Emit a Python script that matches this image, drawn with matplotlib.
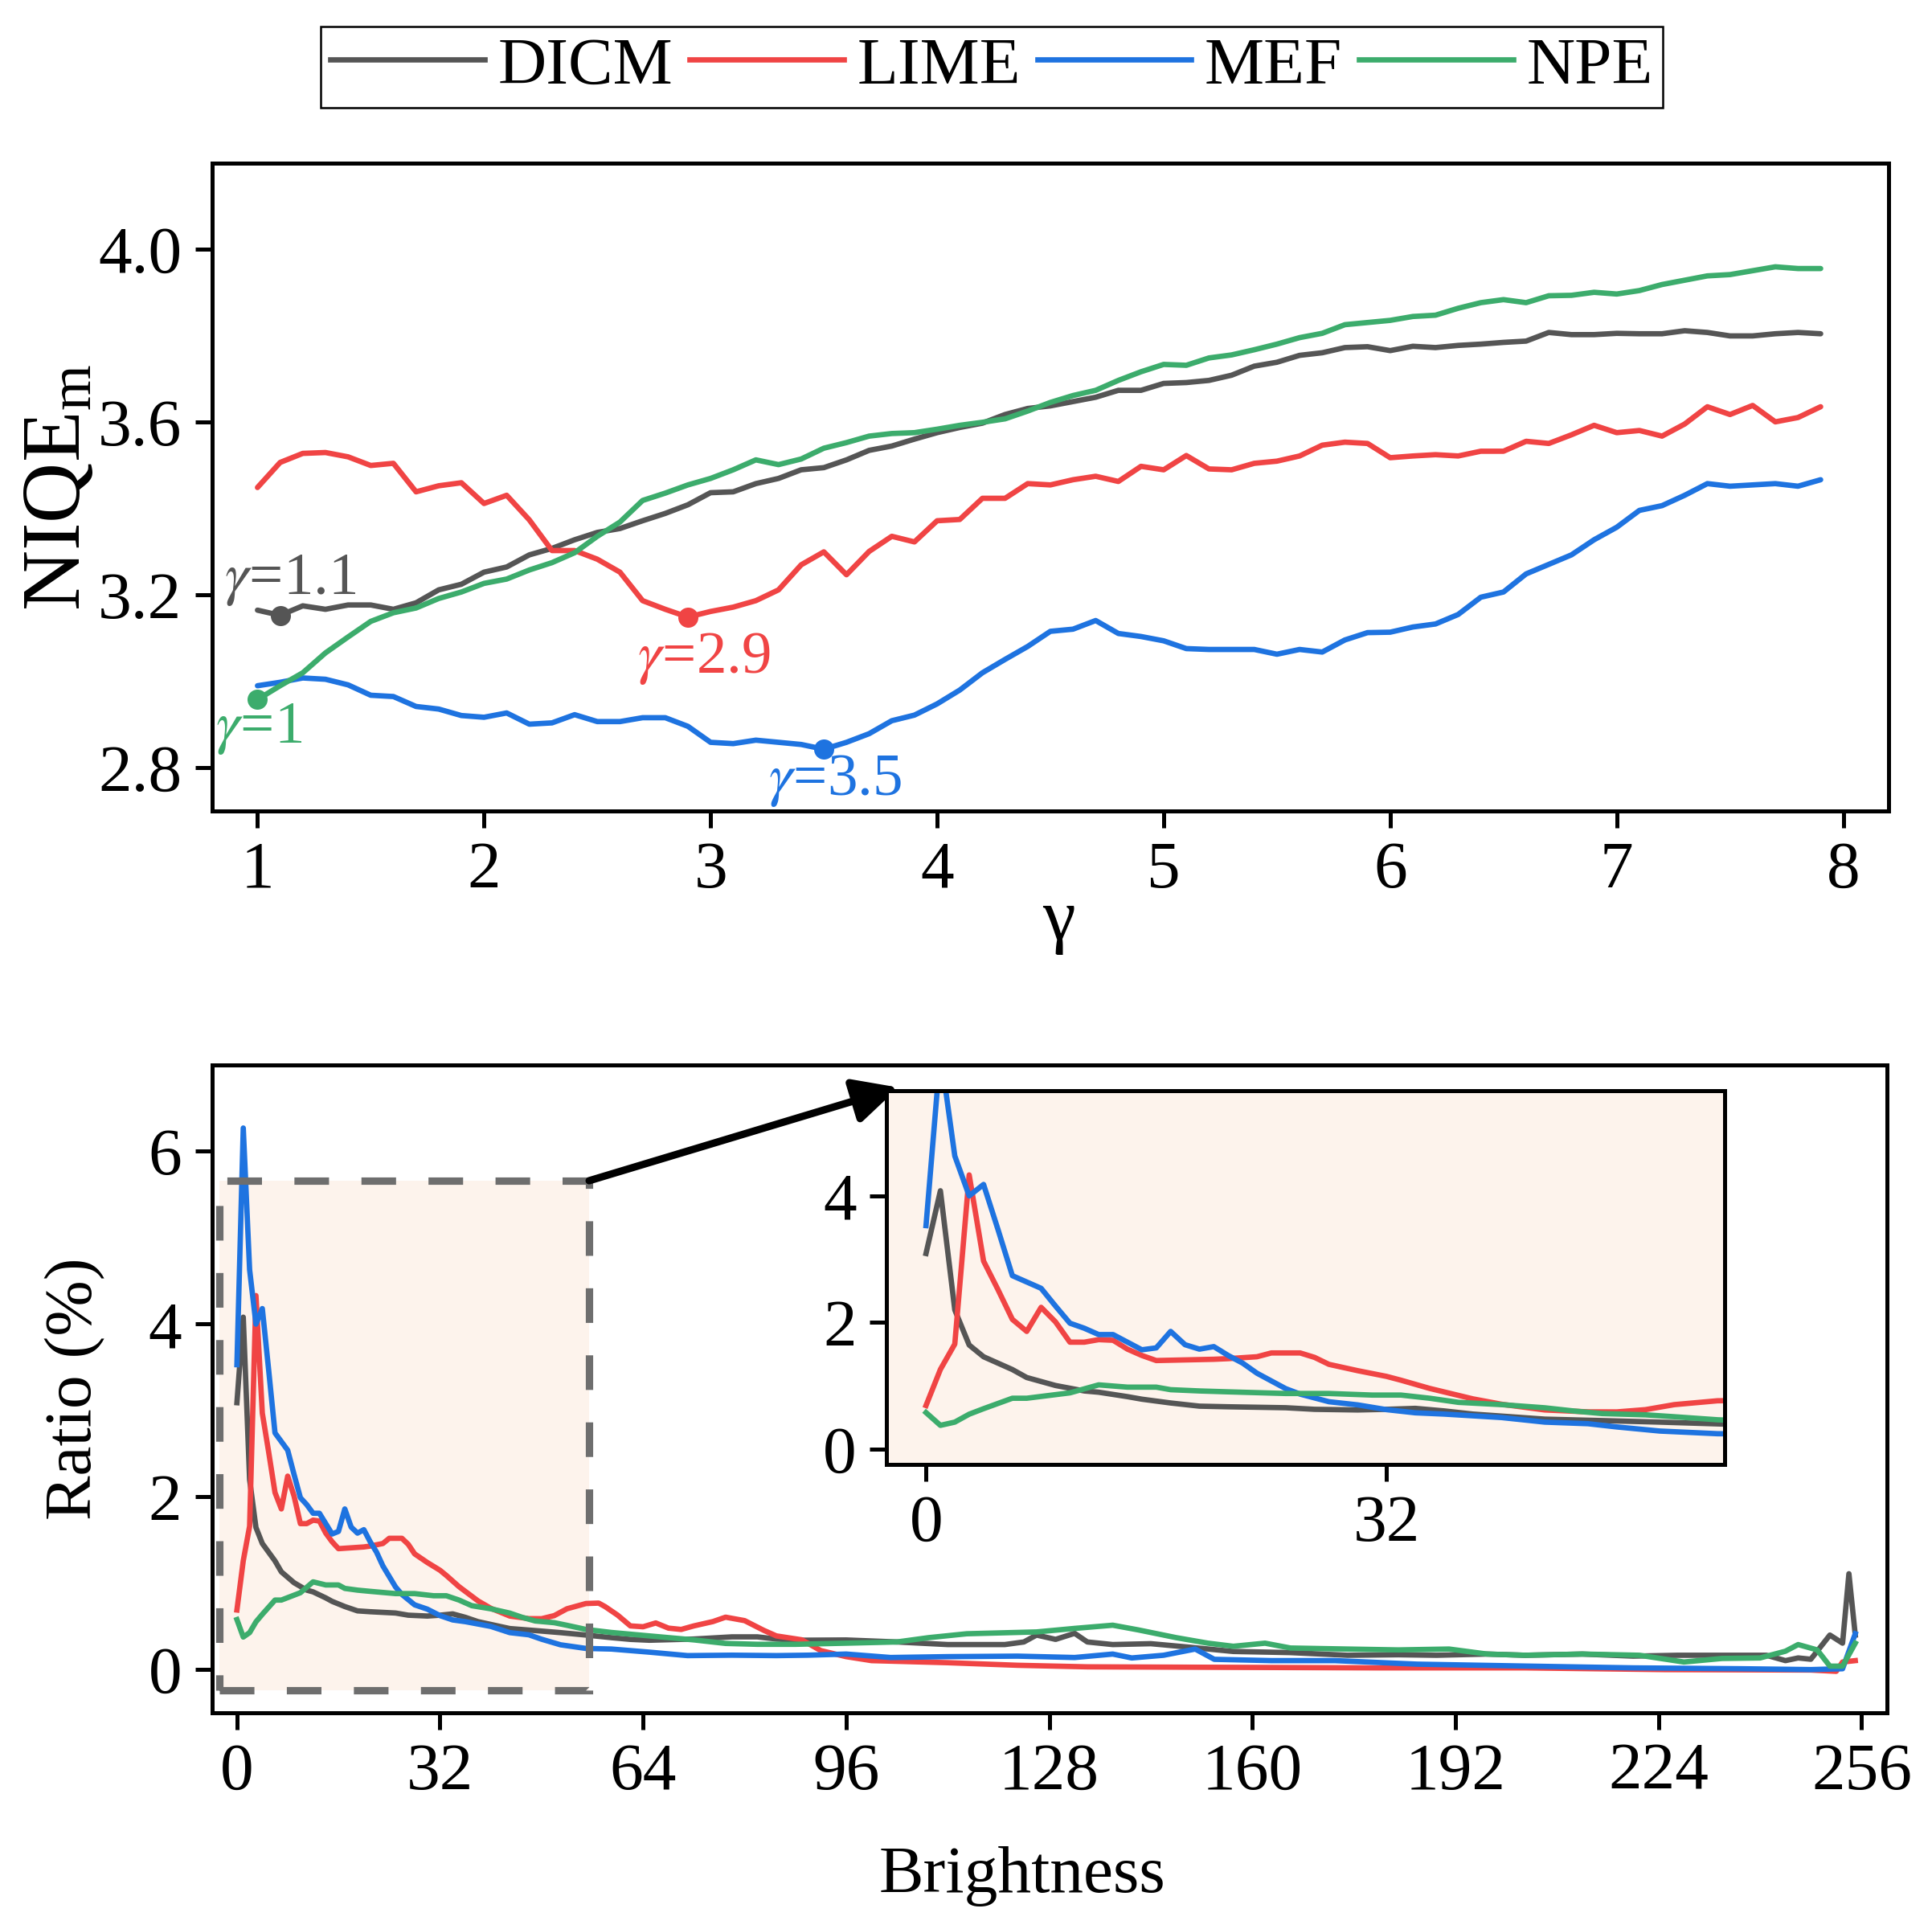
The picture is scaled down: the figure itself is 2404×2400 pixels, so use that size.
import numpy as np
import matplotlib
matplotlib.use("Agg")
import matplotlib.pyplot as plt
from matplotlib.patches import Rectangle
from matplotlib.lines import Line2D

plt.rcParams['font.family'] = ['Liberation Serif', 'DejaVu Serif']
plt.rcParams['mathtext.fontset'] = 'custom'
plt.rcParams['mathtext.rm'] = 'Liberation Serif'
plt.rcParams['mathtext.it'] = 'Liberation Serif:italic'

# ---------------- data: top panel ----------------
methods = ["DICM", "LIME", "MEF", "NPE"]
colors = {"DICM": "#555555", "LIME": "#F04444", "MEF": "#1E73E0", "NPE": "#3CAC6C"}

gamma = np.round(np.arange(1.0, 7.95, 0.1), 1)

niqe_dicm = [3.165, 3.153, 3.175, 3.167, 3.177, 3.177, 3.167, 3.182, 3.212, 3.225,
             3.253, 3.265, 3.293, 3.308, 3.328, 3.345, 3.354, 3.372, 3.389, 3.409,
             3.437, 3.439, 3.458, 3.470, 3.490, 3.495, 3.513, 3.535, 3.545, 3.561,
             3.576, 3.588, 3.598, 3.618, 3.632, 3.638, 3.648, 3.658, 3.674, 3.674,
             3.690, 3.692, 3.697, 3.709, 3.730, 3.739, 3.755, 3.761, 3.773, 3.775,
             3.766, 3.776, 3.773, 3.778, 3.781, 3.785, 3.788, 3.808, 3.803, 3.803,
             3.806, 3.805, 3.805, 3.812, 3.808, 3.800, 3.800, 3.805, 3.808, 3.805]
niqe_lime = [3.449, 3.507, 3.528, 3.530, 3.520, 3.500, 3.505, 3.439, 3.453, 3.460,
             3.412, 3.431, 3.374, 3.303, 3.303, 3.283, 3.253, 3.187, 3.167, 3.149,
             3.162, 3.172, 3.187, 3.212, 3.270, 3.300, 3.247, 3.301, 3.336, 3.323,
             3.372, 3.375, 3.424, 3.424, 3.458, 3.455, 3.467, 3.475, 3.463, 3.498,
             3.490, 3.523, 3.492, 3.490, 3.505, 3.510, 3.522, 3.547, 3.554, 3.551,
             3.518, 3.522, 3.525, 3.522, 3.533, 3.533, 3.556, 3.551, 3.571, 3.593,
             3.576, 3.581, 3.568, 3.596, 3.636, 3.618, 3.639, 3.601, 3.611, 3.636]
niqe_mef = [2.990, 2.998, 3.008, 3.005, 2.992, 2.968, 2.965, 2.942, 2.936, 2.921,
            2.917, 2.927, 2.901, 2.904, 2.923, 2.907, 2.907, 2.916, 2.916, 2.896,
            2.859, 2.856, 2.864, 2.859, 2.854, 2.843, 2.859, 2.879, 2.909, 2.922,
            2.948, 2.980, 3.020, 3.051, 3.081, 3.116, 3.121, 3.141, 3.111, 3.104,
            3.094, 3.076, 3.074, 3.074, 3.074, 3.063, 3.074, 3.068, 3.096, 3.113,
            3.114, 3.126, 3.133, 3.155, 3.195, 3.207, 3.249, 3.271, 3.293, 3.328,
            3.357, 3.396, 3.407, 3.431, 3.458, 3.452, 3.455, 3.458, 3.452, 3.467]
niqe_npe = [2.958, 2.990, 3.020, 3.066, 3.103, 3.139, 3.159, 3.170, 3.192, 3.207,
            3.227, 3.237, 3.258, 3.275, 3.298, 3.336, 3.369, 3.419, 3.436, 3.455,
            3.470, 3.490, 3.513, 3.502, 3.515, 3.540, 3.553, 3.568, 3.574, 3.576,
            3.584, 3.593, 3.600, 3.608, 3.626, 3.646, 3.662, 3.674, 3.697, 3.717,
            3.734, 3.732, 3.749, 3.756, 3.768, 3.781, 3.796, 3.806, 3.826, 3.831,
            3.836, 3.845, 3.848, 3.864, 3.877, 3.884, 3.877, 3.893, 3.894, 3.901,
            3.897, 3.905, 3.919, 3.929, 3.939, 3.942, 3.951, 3.960, 3.956, 3.956]

best_gamma = {"DICM": 1.1, "LIME": 2.9, "MEF": 3.5, "NPE": 1.0}
best_label = {"DICM": "$\\gamma$=1.1", "LIME": "$\\gamma$=2.9", "MEF": "$\\gamma$=3.5", "NPE": "$\\gamma$=1"}

# ---------------- data: bottom panel ----------------
br_dicm_x = [0, 1, 2, 3, 4, 6, 7, 9, 11, 12, 14, 15, 17, 19, 21, 25, 27, 30, 32, 34, 36, 38,
             43, 47, 51, 55, 59, 62, 65, 72, 78, 82, 85, 88, 96, 104, 112, 121, 124, 126,
             129, 132, 134, 138, 144, 150, 157, 166, 175, 183, 189, 197, 203, 212, 220,
             227, 236, 241, 244, 246, 248, 251, 253, 254, 255]
br_dicm_y = [3.09, 4.08, 2.20, 1.645, 1.46, 1.258, 1.132, 1.006, 0.92, 0.90, 0.83, 0.79,
             0.73, 0.68, 0.67, 0.655, 0.63, 0.62, 0.63, 0.645, 0.605, 0.555, 0.475, 0.452,
             0.428, 0.40, 0.37, 0.35, 0.34, 0.354, 0.379, 0.379, 0.354, 0.34, 0.343, 0.32,
             0.29, 0.29, 0.32, 0.40, 0.35, 0.42, 0.32, 0.29, 0.30, 0.26, 0.21, 0.197, 0.166,
             0.172, 0.166, 0.18, 0.166, 0.18, 0.156, 0.166, 0.166, 0.166, 0.104, 0.135,
             0.12, 0.40, 0.306, 1.11, 0.40]

br_lime_x = [0, 1, 2, 3, 4, 5, 6, 7, 8, 9, 10, 11, 12, 13, 14, 15, 16, 18, 20, 21, 23, 24,
             26, 27, 28, 30, 32, 33, 35, 38, 40, 43, 46, 48, 50, 52, 55, 57, 58, 60, 62, 64,
             66, 68, 70, 72, 75, 77, 80, 83, 85, 89, 92, 96, 100, 112, 123, 134, 157, 180,
             203, 225, 248, 252, 253, 255]
br_lime_y = [0.69, 1.26, 1.66, 4.33, 2.97, 2.52, 2.05, 1.86, 2.24, 2.01, 1.69, 1.69, 1.73,
             1.72, 1.58, 1.48, 1.40, 1.41, 1.42, 1.43, 1.46, 1.52, 1.52, 1.45, 1.34, 1.24,
             1.15, 1.09, 0.96, 0.795, 0.71, 0.62, 0.59, 0.589, 0.625, 0.704, 0.765, 0.77,
             0.73, 0.63, 0.506, 0.496, 0.54, 0.48, 0.465, 0.506, 0.556, 0.607, 0.567, 0.455,
             0.39, 0.345, 0.22, 0.15, 0.104, 0.08, 0.05, 0.032, 0.026, 0.02, 0.02, 0.0,
             -0.005, -0.02, 0.088, 0.104]

br_mef_x = [0, 1, 2, 3, 4, 5, 6, 7, 8, 9, 10, 11, 12, 13, 14, 15, 16, 17, 18, 19, 20, 21,
            22, 23, 25, 26, 28, 30, 32, 34, 36, 40, 43, 46, 48, 51, 55, 59, 65, 71, 78, 85,
            90, 96, 103, 112, 123, 132, 138, 141, 146, 151, 154, 163, 173, 186, 203, 220,
            237, 248, 253, 255]
br_mef_y = [3.53, 6.27, 4.63, 4.00, 4.18, 3.47, 2.74, 2.64, 2.54, 2.26, 1.99, 1.91, 1.81,
            1.81, 1.69, 1.57, 1.60, 1.86, 1.65, 1.58, 1.62, 1.48, 1.36, 1.20, 0.956, 0.87,
            0.75, 0.70, 0.625, 0.575, 0.555, 0.50, 0.428, 0.403, 0.352, 0.287, 0.245, 0.238,
            0.202, 0.162, 0.167, 0.162, 0.167, 0.18, 0.14, 0.15, 0.156, 0.14, 0.18, 0.135,
            0.166, 0.238, 0.119, 0.104, 0.104, 0.063, 0.041, 0.02, 0.01, 0.0, 0.01, 0.415]

br_npe_x = [0, 1, 2, 3, 4, 6, 7, 10, 12, 14, 16, 17, 19, 21, 25, 28, 31, 33, 35, 37, 40,
            43, 45, 47, 50, 52, 55, 59, 65, 72, 77, 82, 88, 96, 104, 109, 115, 126, 132,
            138, 142, 148, 153, 157, 162, 166, 175, 183, 191, 197, 203, 212, 221, 228,
            234, 240, 244, 246, 249, 251, 253, 255]
br_npe_y = [0.579, 0.377, 0.428, 0.553, 0.64, 0.805, 0.805, 0.89, 1.016, 0.98, 0.98, 0.94,
            0.92, 0.906, 0.88, 0.88, 0.855, 0.855, 0.805, 0.74, 0.704, 0.654, 0.604, 0.563,
            0.543, 0.513, 0.465, 0.43, 0.39, 0.344, 0.303, 0.293, 0.293, 0.306, 0.32, 0.37,
            0.415, 0.436, 0.477, 0.514, 0.46, 0.37, 0.306, 0.27, 0.306, 0.25, 0.238, 0.228,
            0.238, 0.18, 0.166, 0.18, 0.166, 0.088, 0.129, 0.135, 0.213, 0.29, 0.228, 0.04,
            0.04, 0.306]

top_series = {"DICM": niqe_dicm, "LIME": niqe_lime, "MEF": niqe_mef, "NPE": niqe_npe}
bottom_series = {"DICM": (br_dicm_x, br_dicm_y), "LIME": (br_lime_x, br_lime_y),
                 "MEF": (br_mef_x, br_mef_y), "NPE": (br_npe_x, br_npe_y)}

gamma_ticks = [1, 2, 3, 4, 5, 6, 7, 8]
niqe_ticks = [2.8, 3.2, 3.6, 4.0]
br_ticks = [0, 32, 64, 96, 128, 160, 192, 224, 256]
ratio_ticks = [0, 2, 4, 6]
inset_xticks = [0, 32]
inset_yticks = [0, 2, 4]

zoom_x = (-2.75, 55.5)
zoom_y = (-0.24, 5.66)
peach = "#FDF3EC"

# ---------------- figure ----------------
W, H = 2404, 2400
fig = plt.figure(figsize=(W / 300, H / 300), dpi=300)

def style(ax):
    for s in ax.spines.values():
        s.set_linewidth(1.2)
    ax.tick_params(direction='out', length=5, width=1.2, labelsize=20, pad=4)

# top axes
ax1 = fig.add_axes([264 / W, 1 - 1009 / H, (2350 - 264) / W, (1009 - 203) / H])
style(ax1)
for m in methods:
    ax1.plot(gamma, top_series[m], color=colors[m], lw=1.6, label=m, solid_capstyle='round')
ax1.set_xlim(0.8, 8.2)
ax1.set_ylim(2.7, 4.2)
ax1.set_xticks(gamma_ticks)
ax1.set_yticks(niqe_ticks)
ax1.set_yticklabels([f"{v:.1f}" for v in niqe_ticks])

label_pos = {"DICM": (1.145, 3.202), "LIME": (2.97, 3.021), "MEF": (3.55, 2.737), "NPE": (1.005, 2.859)}
for m in methods:
    g = best_gamma[m]
    idx = int(round((g - 1.0) * 10))
    ax1.plot([g], [top_series[m][idx]], 'o', color=colors[m], ms=5, zorder=5)
    tx, ty = label_pos[m]
    ax1.text(tx, ty, best_label[m], color=colors[m], fontsize=18, ha='center',
             va='baseline', math_fontfamily='stix')

ax1.set_xlabel("γ", fontsize=22)
ax1.xaxis.set_label_coords((1317 - 264) / (2350 - 264), -0.12)
ax1.set_ylabel("NIQE$_\\mathrm{m}$", fontsize=25)
ax1.yaxis.label.set_va('baseline')
ax1.yaxis.set_label_coords((99 - 264) / (2350 - 264), 0.5)

# bottom axes
ax2 = fig.add_axes([264 / W, 1 - 2131 / H, (2348 - 264) / W, (2131 - 1325) / H])
style(ax2)
for m in methods:
    bx, by = bottom_series[m]
    ax2.plot(bx, by, color=colors[m], lw=1.6, zorder=3)
ax2.set_xlim(-3.9, 260)
ax2.set_ylim(-0.5, 7.0)
ax2.set_xticks(br_ticks)
ax2.set_yticks(ratio_ticks)
rect = Rectangle((zoom_x[0], zoom_y[0]), zoom_x[1] - zoom_x[0], zoom_y[1] - zoom_y[0],
                 facecolor=peach, edgecolor='none', zorder=1)
ax2.add_patch(rect)
rect_edge = Rectangle((zoom_x[0], zoom_y[0]), zoom_x[1] - zoom_x[0], zoom_y[1] - zoom_y[0],
                      facecolor='none', edgecolor='#6e6e6e', lw=2.2,
                      linestyle=(0, (4.7, 4.4)), zorder=4)
ax2.add_patch(rect_edge)
ax2.set_xlabel("Brightness", fontsize=20)
ax2.xaxis.label.set_va('baseline')
ax2.xaxis.set_label_coords((1272 - 264) / (2348 - 264), -(2354 - 2131) / (2131 - 1325))
ax2.set_ylabel("Ratio (%)", fontsize=20)
ax2.yaxis.label.set_va('baseline')
ax2.yaxis.set_label_coords((113 - 264) / (2348 - 264), 0.5)

# inset
axin = fig.add_axes([1103 / W, 1 - 1822 / H, (2146 - 1103) / W, (1822 - 1357) / H], facecolor=peach)
style(axin)
for m in methods:
    bx, by = bottom_series[m]
    axin.plot(bx, by, color=colors[m], lw=1.6)
axin.set_xlim(*zoom_x)
axin.set_ylim(*zoom_y)
axin.set_xticks(inset_xticks)
axin.set_yticks(inset_yticks)

# arrow from the zoom rectangle to the inset
ax2.annotate("", xy=(1118 / W, 1 - 1353 / H), xycoords='figure fraction',
             xytext=(zoom_x[1], zoom_y[1]), textcoords='data',
             arrowprops=dict(arrowstyle='-|>', lw=2.2, color='black', mutation_scale=28,
                             shrinkA=0, shrinkB=0), zorder=6)

# legend
handles = [Line2D([0], [0], color=colors[m], lw=1.6) for m in methods]
leg = fig.legend(handles, methods, loc='center', bbox_to_anchor=(1234 / W, 1 - 83.5 / H),
                 ncol=4, frameon=True, fancybox=False, edgecolor='black', framealpha=1,
                 fontsize=20, handlelength=2.3, handletextpad=0.2, columnspacing=0.25,
                 borderpad=0.15, borderaxespad=0)
leg.get_frame().set_linewidth(0.6)

fig.savefig("out.png", dpi=300)
